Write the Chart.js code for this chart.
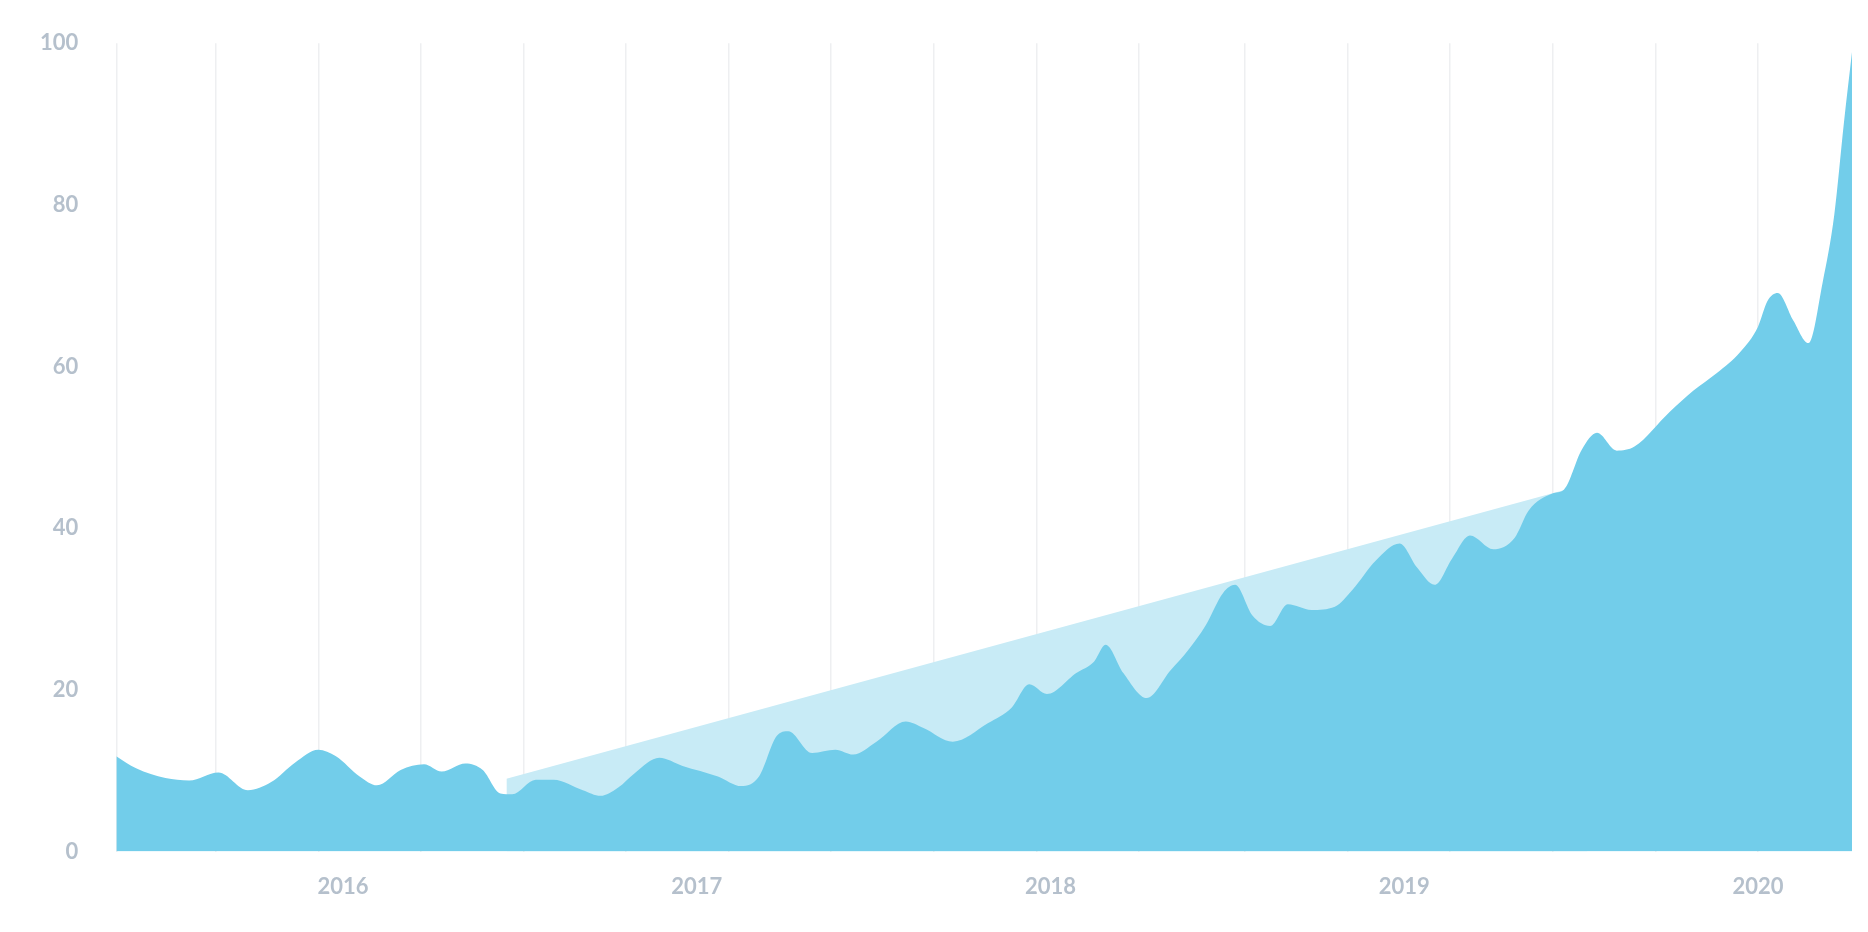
<!DOCTYPE html>
<html>
<head>
<meta charset="utf-8">
<script src="https://cdn.jsdelivr.net/npm/chart.js@4"></script>
<style>
  html, body { margin: 0; padding: 0; background: #fff; }
  #wrap { width: 1868px; height: 932px; }
</style>
</head>
<body>
<div id="wrap"><canvas id="chart"></canvas></div>
<script>
"use strict";

// ── data (x in decimal years) ─────────────────────────────────────────────────
const seriesYears = [
  2015.359, 2015.415, 2015.498, 2015.565, 2015.648, 2015.731, 2015.797, 2015.864,
  2015.930, 2015.980, 2016.047, 2016.096, 2016.163, 2016.229, 2016.279, 2016.346,
  2016.395, 2016.445, 2016.478, 2016.545, 2016.595, 2016.678, 2016.728, 2016.777,
  2016.827, 2016.894, 2016.960, 2017.060, 2017.126, 2017.176, 2017.226, 2017.259,
  2017.326, 2017.392, 2017.442, 2017.508, 2017.591, 2017.641, 2017.724, 2017.824,
  2017.890, 2017.940, 2017.990, 2018.073, 2018.123, 2018.156, 2018.206, 2018.272,
  2018.339, 2018.389, 2018.439, 2018.488, 2018.522, 2018.571, 2018.621, 2018.671,
  2018.738, 2018.804, 2018.854, 2018.920, 2018.987, 2019.037, 2019.086, 2019.136,
  2019.186, 2019.252, 2019.312, 2019.352, 2019.419, 2019.452, 2019.502, 2019.545,
  2019.601, 2019.651, 2019.751, 2019.817, 2019.884, 2019.950, 2020.000, 2020.027,
  2020.056, 2020.100, 2020.143, 2020.183, 2020.216, 2020.243, 2020.266
];
const seriesValues = [
  11.8, 10.3, 9.1, 8.8, 9.8, 7.6, 8.6, 11.0,
  12.6, 11.8, 9.3, 8.2, 10.1, 10.8, 9.9, 10.9,
  10.1, 7.2, 7.1, 8.9, 8.9, 7.6, 6.9, 7.9,
  9.8, 11.6, 10.6, 9.3, 8.1, 9.3, 14.3, 14.9,
  12.2, 12.6, 12.0, 13.6, 16.1, 15.3, 13.6, 15.9,
  17.8, 20.7, 19.5, 22.1, 23.5, 25.6, 22.1, 19.0,
  22.4, 24.9, 28.0, 32.0, 33.0, 29.2, 27.9, 30.6,
  29.9, 30.3, 32.4, 36.0, 38.1, 35.1, 33.0, 36.3,
  39.1, 37.4, 38.8, 42.2, 44.3, 44.8, 49.7, 51.8,
  49.6, 50.1, 54.4, 57.0, 59.2, 61.8, 64.9, 68.1,
  69.1, 65.7, 62.9, 70.4, 78.8, 90.1, 98.9
];
const trendYears  = [2016.462, 2019.518];
const trendValues = [9.0, 45.5];

const gridYears  = [2015.36, 2015.64, 2015.93, 2016.22, 2016.51, 2016.80, 2017.09, 2017.38,
                    2017.67, 2017.96, 2018.25, 2018.55, 2018.84, 2019.13, 2019.42, 2019.71, 2020.00];
const labelYears = [2016, 2017, 2018, 2019, 2020];
const yTicks     = [0, 20, 40, 60, 80, 100];

const toPoints = (xs, ys) => xs.map((x, i) => ({ x, y: ys[i] }));
const tickFont = { family: "Lato", size: 22, weight: "bold" };
const tickColor = "#b5c0cc";

new Chart(document.getElementById("chart"), {
  type: "line",
  data: {
    datasets: [
      {
        data: toPoints(seriesYears, seriesValues),
        backgroundColor: "#72cdea", borderWidth: 0, pointRadius: 0,
        fill: "origin", cubicInterpolationMode: "monotone", order: 1,
      },
      {
        data: toPoints(trendYears, trendValues),
        backgroundColor: "#c8ebf6", borderWidth: 0, pointRadius: 0,
        fill: "origin", order: 2,
      },
    ],
  },
  options: {
    responsive: true,
    maintainAspectRatio: false,
    animation: false,
    layout: { padding: { top: 20, right: 16, left: 10, bottom: 10 } },
    plugins: { legend: { display: false }, tooltip: { enabled: false } },
    scales: {
      x: {
        type: "linear",
        min: seriesYears[0], max: seriesYears[seriesYears.length - 1],
        afterBuildTicks: axis => {
          const vals = [...new Set([...gridYears, ...labelYears])].sort((a, b) => a - b);
          axis.ticks = vals.map(value => ({ value }));
        },
        grid: {
          color: ctx => (ctx.tick && gridYears.includes(ctx.tick.value)) ? "#eeeff1" : "rgba(0,0,0,0)",
          lineWidth: 1.5, drawTicks: false,
        },
        border: { display: false },
        ticks: {
          autoSkip: false, maxRotation: 0, padding: 22,
          color: tickColor, font: tickFont,
          callback: v => labelYears.includes(v) ? String(v) : "",
        },
      },
      y: {
        min: 0, max: 100,
        afterBuildTicks: axis => { axis.ticks = yTicks.map(value => ({ value })); },
        grid: { display: false },
        border: { display: false },
        ticks: { color: tickColor, font: tickFont, padding: 30 },
      },
    },
  },
});
</script>
</body>
</html>
